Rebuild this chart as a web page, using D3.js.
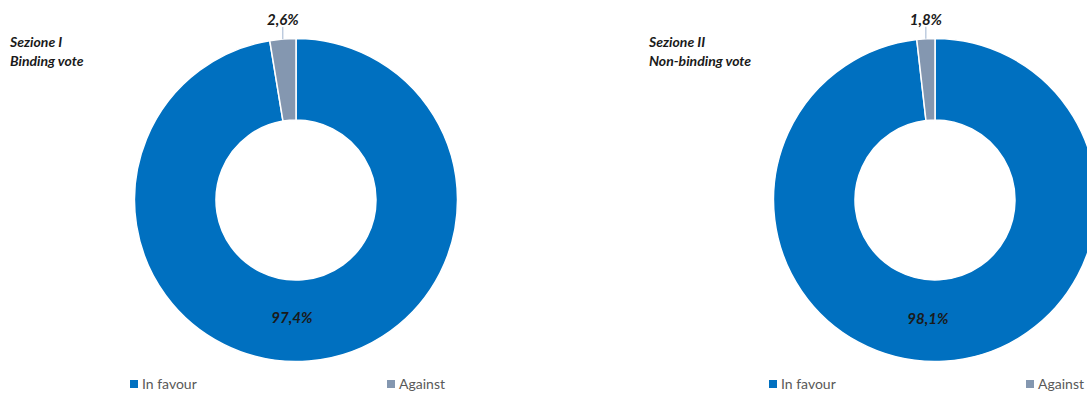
<!DOCTYPE html>
<html>
<head>
  <script src="https://d3js.org/d3.v7.min.js"></script>
  <style>
    body { margin: 0; background: #fff; }
    text { font-family: Lato, "Open Sans", sans-serif; }
  </style>
</head>
<body>
  <div id="chart"></div>
  <script>
    // chart data
    const categories = ["In favour", "Against"];
    const sezione1 = [97.4, 2.6];
    const sezione2 = [98.1, 1.8];
    const titles1 = ["Sezione I", "Binding vote"];
    const titles2 = ["Sezione II", "Non-binding vote"];
    const colors = ["#0070C0", "#8497B0"];

    const width = 1087, height = 398;
    const svg = d3.select("#chart")
      .append("svg")
      .attr("width", width)
      .attr("height", height);

    const fmt = v => v.toFixed(1).replace(".", ",") + "%";

    const outerR = 161.5, innerR = 80;
    const arc = d3.arc().innerRadius(innerR).outerRadius(outerR);
    // start the pie at the top, going clockwise
    const pie = d3.pie().sort(null).value(d => d.value);

    function drawDonut(values, titles, cx, cy, offsetX, legendX) {
      const data = categories.map((c, i) => ({ cat: c, value: values[i], color: colors[i] }));

      // titles
      const t = svg.append("text")
        .attr("x", offsetX)
        .attr("y", 47)
        .attr("font-size", 14)
        .attr("font-weight", "bold")
        .attr("font-style", "italic")
        .attr("fill", "#1a1a1a");
      titles.forEach((s, i) => {
        t.append("tspan").attr("x", offsetX).attr("dy", i === 0 ? 0 : 19).text(s);
      });

      const g = svg.append("g").attr("transform", `translate(${cx},${cy})`);
      const arcs = pie(data);

      g.selectAll("path")
        .data(arcs)
        .enter()
        .append("path")
        .attr("d", arc)
        .attr("fill", d => d.data.color)
        .attr("stroke", "#fff")
        .attr("stroke-width", 1.5);

      // big slice label, inside the ring
      const big = arcs[0];
      const c = arc.centroid(big);
      g.append("text")
        .attr("x", c[0] - 14)
        .attr("y", c[1] + 3)
        .attr("text-anchor", "middle")
        .attr("font-size", 15)
        .attr("font-weight", "bold")
        .attr("font-style", "italic")
        .attr("fill", "#1a1a1a")
        .text(fmt(big.data.value));

      // small slice label, outside with a leader line
      const small = arcs[1];
      const mid = (small.startAngle + small.endAngle) / 2;
      const px = Math.sin(mid) * outerR;
      const py = -Math.cos(mid) * outerR;
      g.append("line")
        .attr("x1", px).attr("y1", py)
        .attr("x2", px).attr("y2", py - 12)
        .attr("stroke", "#9fb3cf")
        .attr("stroke-width", 1);
      g.append("text")
        .attr("x", px)
        .attr("y", py - 14)
        .attr("text-anchor", "middle")
        .attr("font-size", 15)
        .attr("font-weight", "bold")
        .attr("font-style", "italic")
        .attr("fill", "#1a1a1a")
        .text(fmt(small.data.value));

      // legend
      const legX = d3.scalePoint().domain(categories).range([legendX, legendX + 257]);
      const leg = svg.append("g")
        .selectAll("g")
        .data(data)
        .enter()
        .append("g")
        .attr("transform", d => `translate(${legX(d.cat)},380)`);
      leg.append("rect")
        .attr("width", 8).attr("height", 8)
        .attr("fill", d => d.color);
      leg.append("text")
        .attr("x", 12)
        .attr("y", 9)
        .attr("font-size", 14)
        .attr("fill", "#595959")
        .text(d => d.cat);
    }

    drawDonut(sezione1, titles1, 296, 200, 10, 130);
    drawDonut(sezione2, titles2, 935, 200, 649, 769);
  </script>
</body>
</html>
